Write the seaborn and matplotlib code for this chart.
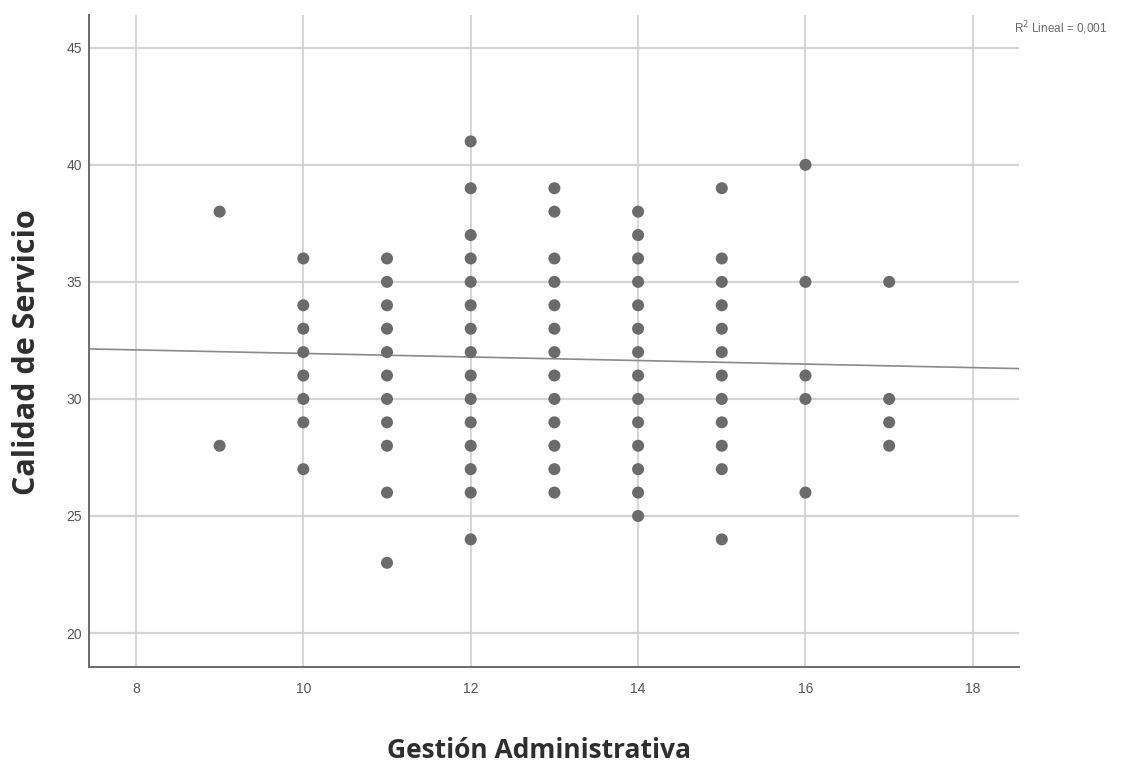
import numpy as np
import pandas as pd
import matplotlib
matplotlib.use("Agg")
import matplotlib.pyplot as plt
import seaborn as sns

# ---- data ----
x9 = [38, 28]
x10 = [36, 34, 33, 32, 31, 30, 29, 27]
x11 = [36, 35, 34, 33, 32, 31, 30, 29, 28, 26, 23]
x12 = [41, 39, 37, 36, 35, 34, 33, 32, 31, 30, 29, 28, 27, 26, 24]
x13 = [39, 38, 36, 35, 34, 33, 32, 31, 30, 29, 28, 27, 26]
x14 = [38, 37, 36, 35, 34, 33, 32, 31, 30, 29, 28, 27, 26, 25]
x15 = [39, 36, 35, 34, 33, 32, 31, 30, 29, 28, 27, 24]
x16 = [40, 35, 31, 30, 26]
x17 = [35, 30, 29, 28]
gestion_levels = [9, 10, 11, 12, 13, 14, 15, 16, 17]
calidad_cols = [x9, x10, x11, x12, x13, x14, x15, x16, x17]

fit_intercept = 32.70
fit_slope = -0.0757
r2_text = "R$^2$ Lineal = 0,001"
x_ticks = [8, 10, 12, 14, 16, 18]
y_ticks = [20, 25, 30, 35, 40, 45]
x_label = "Gestión Administrativa"
y_label = "Calidad de Servicio"

rows = []
for g, col in zip(gestion_levels, calidad_cols):
    for c in col:
        rows.append((g, c))
df = pd.DataFrame(rows, columns=["Gestion", "Calidad"])

sns.set_theme(style="white")
plt.rcParams["font.family"] = ["Open Sans", "DejaVu Sans"]

fig = plt.figure(figsize=(11.23, 7.62), dpi=100)
ax = fig.add_axes([0.0793, 0.1247, 0.828, 0.855])

xlim = (7.44, 18.55)
ylim = (18.55, 46.38)
ax.set_xlim(*xlim)
ax.set_ylim(*ylim)

for v in y_ticks:
    ax.axhline(v, color="#d4d4d4", lw=1.6, zorder=0)
for v in x_ticks:
    ax.axvline(v, color="#cfcfcf", lw=1.2, zorder=0)

fx = np.array(xlim)
fit_df = pd.DataFrame({"x": fx, "y": fit_intercept + fit_slope * fx})
sns.lineplot(data=fit_df, x="x", y="y", ax=ax, color="#8a8a8a", lw=1.2, zorder=1)

sns.scatterplot(data=df, x="Gestion", y="Calidad", ax=ax, color="#6b6b6b",
                s=75, edgecolor="none", zorder=3)

ax.set_xticks(x_ticks)
ax.set_yticks(y_ticks)
tick_font = ["Liberation Sans Narrow", "Liberation Sans", "DejaVu Sans"]
ax.set_xticklabels([str(t) for t in x_ticks], family=tick_font, fontsize=10, color="#555555")
ax.set_yticklabels([str(t) for t in y_ticks], family=tick_font, fontsize=10, color="#555555")
ax.tick_params(axis="x", length=0, pad=11)
ax.tick_params(axis="y", length=0, pad=5)

for s in ["top", "right"]:
    ax.spines[s].set_visible(False)
for s in ["left", "bottom"]:
    ax.spines[s].set_color("#6a6a6a")
    ax.spines[s].set_linewidth(1.4)

ax.set_xlabel("")
ax.set_ylabel("")
fig.text(539 / 1123, 1 - 758 / 762, x_label, fontsize=19, fontweight="bold",
         color="#2e2e2e", ha="center", va="baseline")
fig.text(27 / 1123, 1 - 352 / 762, y_label, fontsize=22, fontweight="bold",
         color="#2e2e2e", ha="center", va="center", rotation=90)

fig.text(0.9025, 0.963, r2_text, family=tick_font, fontsize=8.5, color="#6a6a6a",
         ha="left", va="center")

fig.savefig("out.png", dpi=100, facecolor="white")
